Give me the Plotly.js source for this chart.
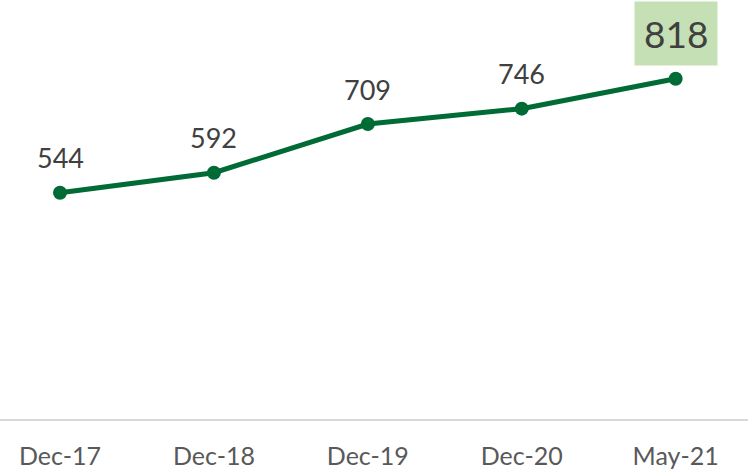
<!DOCTYPE html>
<html><head><meta charset="utf-8">
<script src="https://cdn.plot.ly/plotly-3.0.1.min.js"></script>
<style>html,body{margin:0;padding:0;background:#fff}#c{width:748px;height:472px}</style>
</head><body><div id="c"></div>
<script>
const categories = ["Dec-17","Dec-18","Dec-19","Dec-20","May-21"];
const values = [544, 592, 709, 746, 818];
const green = "#006B35";
const font = "Lato, 'Open Sans', sans-serif";
const annotations = categories.map((c, i) => {
  const last = i === categories.length - 1;
  return {
    x: c, y: values[i], xref: "x", yref: "y",
    text: String(values[i]), showarrow: false,
    yshift: last ? 45 : 35,
    font: {family: font, size: last ? 37 : 27, color: "#404040"},
    bgcolor: last ? "#C5E0B4" : "rgba(0,0,0,0)",
    borderpad: last ? 9 : 0
  };
});
Plotly.newPlot("c", [{
  x: categories, y: values, type: "scatter", mode: "lines+markers",
  line: {color: green, width: 5},
  marker: {color: green, size: 14},
  hoverinfo: "none"
}], {
  width: 748, height: 472,
  margin: {l: 0, r: 0, t: 3, b: 53},
  paper_bgcolor: "#fff", plot_bgcolor: "#fff",
  showlegend: false,
  xaxis: {type: "category", range: [-0.39, 4.47], showgrid: false, zeroline: false,
    showline: true, linecolor: "#D9D9D9", linewidth: 2, automargin: false,
    ticks: "outside", ticklen: 14, tickcolor: "rgba(0,0,0,0)",
    tickfont: {family: font, size: 25, color: "#595959"}, fixedrange: true},
  yaxis: {range: [0, 1000], visible: false, showgrid: false, zeroline: false, fixedrange: true},
  annotations: annotations
}, {staticPlot: true});
</script></body></html>
